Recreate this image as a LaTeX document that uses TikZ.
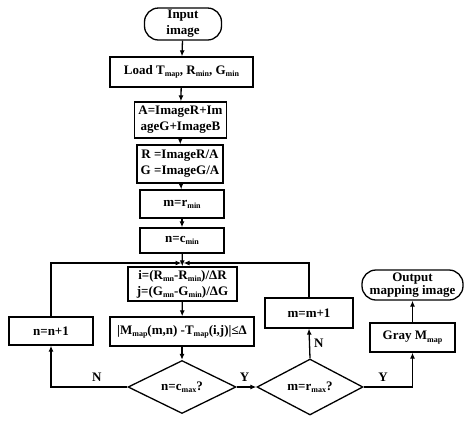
\documentclass[tikz,border=0pt]{standalone}
\usepackage{fontspec}
\setmainfont{Liberation Serif}
\usetikzlibrary{shapes.geometric,arrows.meta}
\newcommand{\lo}[1]{\raisebox{-0.35ex}{\fontsize{8}{8}\selectfont #1}}
\begin{document}
\begin{tikzpicture}[x=1pt,y=-1pt,
  every node/.style={font=\fontsize{13}{16}\selectfont\bfseries, align=center, inner sep=0pt},
  box/.style={draw, line width=1.3pt, rectangle},
  term/.style={draw, line width=1.3pt, rectangle, rounded corners=14pt},
  dec/.style={draw, line width=1.3pt, diamond},
  conn/.style={line width=1.3pt, -{Latex[length=6pt,width=5pt]}},
  lab/.style={font=\fontsize{13}{16}\selectfont\bfseries}]
\useasboundingbox (0,0) rectangle (474,424);
\node[term, minimum width=77pt, minimum height=32pt] (in) at (183,24) {Input\\image};
\node[box, minimum width=143pt, minimum height=30pt] (load) at (181.5,72) {Load T\lo{map}, R\lo{min}, G\lo{min}};
\node[box, minimum width=92pt, minimum height=36pt] (a) at (180.5,120) {A=ImageR+Im\\ageG+ImageB};
\node[box, minimum width=86pt, minimum height=38pt] (r) at (180,164) {R =ImageR/A\\G =ImageG/A};
\node[box, minimum width=84pt, minimum height=28pt] (m) at (182,204) {m=r\lo{min}};
\node[box, minimum width=84pt, minimum height=25pt] (n) at (182,240.5) {n=c\lo{min}};
\node[box, minimum width=109pt, minimum height=34pt] (ij) at (182.5,284) {i=(R\lo{mn}-R\lo{min})/ΔR\\j=(G\lo{mn}-G\lo{min})/ΔG};
\node[box, minimum width=144pt, minimum height=29pt] (cmp) at (182,331.5) {|M\lo{map}(m,n) -T\lo{map}(i,j)|≤Δ};
\node[box, minimum width=84pt, minimum height=28pt] (nn) at (51,331) {n=n+1};
\node[dec, minimum width=108pt, minimum height=53pt] (d1) at (182,387) {n=c\lo{max}?};
\node[dec, minimum width=106pt, minimum height=54pt] (d2) at (310,387) {m=r\lo{max}?};
\node[box, minimum width=88pt, minimum height=30pt] (mm) at (309,313) {m=m+1};
\node[box, minimum width=85pt, minimum height=29pt] (gray) at (412.5,337.5) {Gray M\lo{map}};
\node[term, minimum width=101pt, minimum height=30pt] (out) at (412.5,285) {Output\\[-3pt]mapping image};
\coordinate (join) at (182.5,263);
\draw[conn] (in) -- (load);
\draw[conn] (load) -- (a);
\draw[conn] (a) -- (r);
\draw[conn] (r) -- (m);
\draw[conn] (m) -- (n);
\draw[conn] (n) -- (ij);
\draw[conn] (nn.north) |- ([xshift=-1pt]join);
\draw[conn] (mm.north) |- ([xshift=1pt]join);
\draw[conn] (ij) -- (cmp);
\draw[conn] (cmp) -- (d1);
\draw[conn] (d1.west) -| node[lab, pos=0.2, above=5pt] {N} (nn.south);
\draw[conn] (d1.east) -- node[lab, pos=0.4, above=5pt] {Y} (d2.west);
\draw[conn] (d2.north) -- node[lab, right=4pt, pos=0.5] {N} (mm.south);
\draw[conn] (d2.east) -| node[lab, pos=0.2, above=5pt] {Y} (gray.south);
\draw[conn] (gray) -- (out);
\end{tikzpicture}
\end{document}
